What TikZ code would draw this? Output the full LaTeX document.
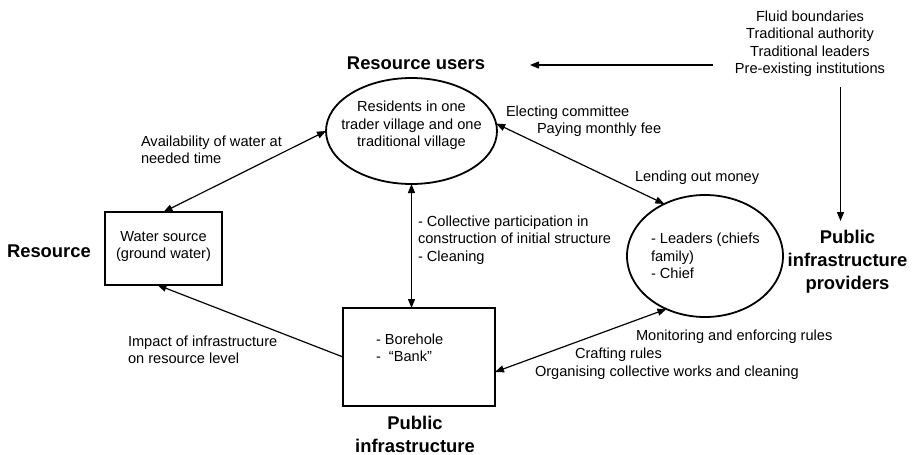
\documentclass[tikz,border=0pt]{standalone}
\usepackage{fontspec}
\setmainfont{Liberation Sans}
\usetikzlibrary{arrows.meta,shapes.geometric}
\begin{document}
\begin{tikzpicture}[x=1pt,y=-1pt,
  every node/.style={inner sep=0pt,outer sep=0pt},
  txt/.style={font=\fontsize{14.6}{17.5}\selectfont,align=left,anchor=west},
  ctxt/.style={font=\fontsize{14.6}{17.5}\selectfont,align=center},
  ttl/.style={font=\fontsize{18.4}{23}\selectfont\bfseries,align=center},
  ell/.style={draw,ellipse,line width=1.8pt},
  boxn/.style={draw,rectangle,line width=1.8pt},
  con/.style={line width=1.2pt,-{Triangle[length=9pt,width=7pt]}},
  dcon/.style={line width=1.2pt,{Triangle[length=9pt,width=7pt]}-{Triangle[length=9pt,width=7pt]}}
]
\useasboundingbox (0,0) rectangle (914,455);

% main shapes
\node[ell,minimum width=171pt,minimum height=106pt] (ru) at (411.5,131) {};
\node[ctxt] (rutxt) at (411.5,125.5) {Residents in one\\trader village and one\\traditional village};
\node[ell,minimum width=156pt,minimum height=122pt] (ld) at (705,256) {};
\node[txt] (ldtxt) at (651,256) {- Leaders (chiefs\\family)\\- Chief};
\node[boxn,minimum width=117pt,minimum height=73pt] (ws) at (163.5,248.5) {};
\node[ctxt] (wstxt) at (163.5,246.5) {Water source\\(ground water)};
\node[boxn,minimum width=152pt,minimum height=98pt] (bh) at (419,357) {};
\node[txt] (bhtxt) at (376,348) {- Borehole\\-\ \ “Bank”};

% titles
\node[ttl] (tru) at (416,63) {Resource users};
\node[ttl,anchor=west] (tres) at (7,251) {Resource};
\node[ttl] (tpi) at (415,434) {Public\\infrastructure};
\node[ttl] (tpip) at (847.5,262) {Public\\infrastructure\\providers};
\node[ctxt] (tr) at (810,43.5) {Fluid boundaries\\Traditional authority\\Traditional leaders\\Pre-existing institutions};

% labels
\node[txt] (l1) at (141,150) {Availability of water at\\needed time};
\node[txt] (l2) at (506,113) {Electing committee};
\node[txt] (l3) at (537,130) {Paying monthly fee};
\node[txt] (l4) at (635,178) {Lending out money};
\node[txt] (l5) at (418,240) {- Collective participation in\\construction of initial structure\\- Cleaning};
\node[txt] (l6) at (128,350) {Impact of infrastructure\\on resource level};
\node[txt] (l7) at (636,337) {Monitoring and enforcing rules};
\node[txt] (l8) at (575,355) {Crafting rules};
\node[txt] (l9) at (535,373) {Organising collective works and cleaning};

% free ends
\coordinate (h1) at (713,65);
\coordinate (h2) at (530,65);
\coordinate (v1) at (840.5,87);
\coordinate (v2) at (840.5,221);

% connectors
\draw[con] (h1) -- (h2);
\draw[con] (v1) -- (v2);
\draw[dcon] (ru.west) -- (ws.north);
\draw[dcon] (ru.south) -- (ru.south |- bh.north);
\draw[dcon] (ru.5) -- (ld.128);
\draw[con] (bh.west) -- ([xshift=-6pt]ws.south);
\draw[dcon] ([yshift=-15pt]bh.east) -- (ld.234);
\end{tikzpicture}
\end{document}
